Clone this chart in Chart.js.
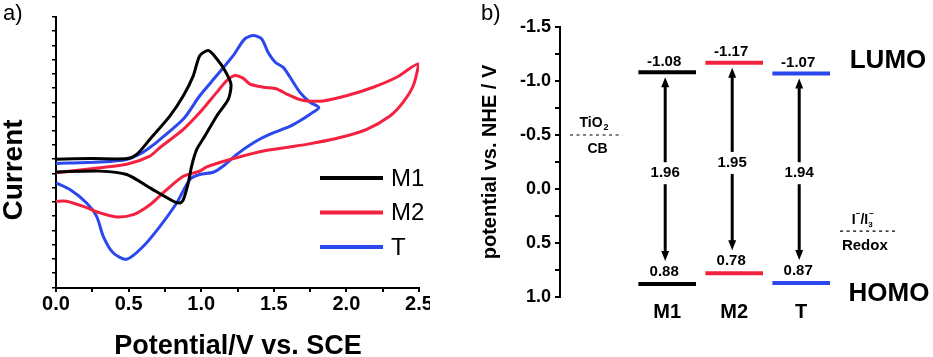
<!DOCTYPE html>
<html>
<head>
<meta charset="utf-8">
<script src="https://cdn.jsdelivr.net/npm/chart.js@4.4.1/dist/chart.umd.min.js"></script>
<style>
  html, body { margin: 0; padding: 0; background: #fff; }
  #wrap { position: relative; width: 933px; height: 357px; overflow: hidden; }
  canvas { position: absolute; top: 0; }
  #cvChart { left: 0; }
  #levelChart { left: 430px; }
</style>
</head>
<body>
<div id="wrap">
  <canvas id="cvChart" width="430" height="357"></canvas>
  <canvas id="levelChart" width="503" height="357"></canvas>
</div>
<script>
// Panel a: cyclic voltammograms (current in arbitrary units)
const m1Potential = [0, 0.25, 0.49, 0.556, 0.647, 0.785, 0.877, 0.946, 0.99, 1.05, 1.107, 1.164, 1.205, 1.187, 1.107, 1.026, 0.97, 0.934, 0.911, 0.877, 0.854, 0.808, 0.647, 0.487, 0.303, 0];
const m1Current   = [4.0, 4.02, 4.02, 4.17, 4.70, 5.52, 6.23, 6.94, 7.64, 7.82, 7.53, 7.11, 6.64, 6.11, 5.52, 4.82, 4.35, 3.76, 3.17, 2.58, 2.46, 2.52, 2.99, 3.46, 3.58, 3.55];

const m2Potential = [0, 0.303, 0.487, 0.647, 0.716, 0.877, 0.99, 1.107, 1.176, 1.233, 1.29, 1.336, 1.428, 1.52, 1.59, 1.67, 1.727, 1.84, 2.0, 2.185, 2.346, 2.495, 2.46, 2.39, 2.30, 2.14, 1.956, 1.727, 1.428, 1.198, 1.038, 0.99, 0.877, 0.762, 0.647, 0.532, 0.418, 0.303, 0.188, 0.073, 0];
const m2Current   = [3.52, 3.70, 3.82, 4.11, 4.41, 5.05, 5.64, 6.35, 6.76, 6.94, 6.84, 6.64, 6.53, 6.47, 6.29, 6.11, 6.05, 6.05, 6.23, 6.53, 6.88, 7.35, 6.58, 6.0, 5.52, 5.05, 4.76, 4.52, 4.29, 3.99, 3.73, 3.58, 3.40, 2.93, 2.40, 2.05, 1.97, 2.11, 2.34, 2.52, 2.52];

const tPotential = [0, 0.303, 0.487, 0.60, 0.67, 0.877, 0.99, 1.107, 1.22, 1.30, 1.36, 1.417, 1.46, 1.51, 1.565, 1.61, 1.68, 1.75, 1.81, 1.75, 1.68, 1.61, 1.474, 1.36, 1.245, 1.152, 1.083, 0.99, 0.923, 0.831, 0.716, 0.60, 0.487, 0.395, 0.326, 0.28, 0.211, 0.096, 0];
const tCurrent   = [3.85, 3.90, 3.99, 4.25, 4.5, 5.41, 6.23, 6.94, 7.64, 8.23, 8.35, 8.23, 7.76, 7.41, 7.23, 6.9, 6.35, 6.0, 5.82, 5.58, 5.35, 5.15, 4.88, 4.58, 4.17, 3.76, 3.54, 3.46, 3.29, 2.46, 1.64, 0.93, 0.48, 0.70, 1.28, 1.99, 2.46, 2.93, 3.17];

// Panel b: energy levels (V vs. NHE)
const dyes = ['M1', 'M2', 'T'];
const lumo = [-1.08, -1.17, -1.07];
const homo = [0.88, 0.78, 0.87];
const gap = [1.96, 1.95, 1.94];
const tio2CB = -0.5;
const redox = 0.39;

const colors = ['#000000', '#f5223f', '#2b47ee'];
const FONT = '"Liberation Sans", Arial, sans-serif';

function toPoints(xs, ys) {
    return xs.map((x, i) => ({ x: x, y: ys[i] }));
}

function halfStep(v) {
    return Math.abs(v * 2 - Math.round(v * 2)) < 1e-6;
}

// fix the axis box sizes so the plot area lands where the original is
function fixWidth(w) {
    return scale => { scale.width = w; scale.paddingTop = 0; scale.paddingBottom = 0; };
}
function fixHeight(h) {
    return scale => { scale.height = h; scale.paddingLeft = 0; scale.paddingRight = 0; };
}

const axisBlack = {
    color: '#000',
    lineWidth: 2,
    drawOnChartArea: false,
    drawTicks: true,
    tickLength: 4
};

// ---------- panel a ----------
const cvDecor = {
    id: 'cvDecor',
    afterDraw(chart) {
        const ctx = chart.ctx;
        ctx.save();
        ctx.fillStyle = '#000';
        ctx.textBaseline = 'top';
        ctx.font = '22px ' + FONT;
        ctx.fillText('a)', 3, 3);

        ctx.textAlign = 'center';
        ctx.textBaseline = 'middle';
        ctx.font = 'bold 27px ' + FONT;
        ctx.fillText('Potential/V vs. SCE', 238, 347);

        ctx.save();
        ctx.translate(14, 170);
        ctx.rotate(-Math.PI / 2);
        ctx.font = 'bold 28px ' + FONT;
        ctx.fillText('Current', 0, 0);
        ctx.restore();

        // legend
        chart.data.datasets.forEach((ds, i) => {
            const y = 178 + i * 34.5;
            ctx.strokeStyle = ds.borderColor;
            ctx.lineWidth = 4;
            ctx.beginPath();
            ctx.moveTo(320, y);
            ctx.lineTo(383, y);
            ctx.stroke();
            ctx.fillStyle = '#000';
            ctx.textAlign = 'left';
            ctx.font = '24px ' + FONT;
            ctx.fillText(ds.label, 391, y + 1);
        });
        ctx.restore();
    }
};

new Chart(document.getElementById('cvChart'), {
    type: 'scatter',
    data: {
        datasets: [
            { label: 'M1', data: toPoints(m1Potential, m1Current) },
            { label: 'M2', data: toPoints(m2Potential, m2Current) },
            { label: 'T', data: toPoints(tPotential, tCurrent) }
        ].map((ds, i) => Object.assign(ds, {
            showLine: true,
            borderColor: colors[i],
            borderWidth: 3,
            pointRadius: 0,
            tension: 0.25
        }))
    },
    options: {
        responsive: false,
        animation: false,
        layout: { padding: { top: 17, right: 11, left: 0, bottom: 0 } },
        plugins: { legend: { display: false }, tooltip: { enabled: false } },
        scales: {
            x: {
                type: 'linear',
                min: 0,
                max: 2.5,
                afterFit: fixHeight(69),
                border: { color: '#000', width: 2 },
                grid: axisBlack,
                ticks: {
                    stepSize: 0.25,
                    padding: 0,
                    maxRotation: 0,
                    autoSkip: false,
                    color: '#000',
                    font: { family: FONT, size: 20, weight: 'bold' },
                    callback: v => halfStep(v) ? v.toFixed(1) : ''
                }
            },
            y: {
                type: 'linear',
                min: -0.53,
                max: 9,
                afterFit: fixWidth(56),
                border: { color: '#000', width: 2 },
                grid: Object.assign({}, axisBlack, { lineWidth: 1.5 }),
                ticks: { stepSize: 0.5, autoSkip: false, callback: () => '' }
            }
        }
    },
    plugins: [cvDecor]
});

// ---------- panel b ----------
const levelHalf = 0.43;
const levelDatasets = [];
dyes.forEach((name, i) => {
    [lumo[i], homo[i]].forEach(v => {
        levelDatasets.push({
            label: name,
            data: [{ x: i - levelHalf, y: v }, { x: i + levelHalf, y: v }],
            showLine: true,
            borderColor: colors[i],
            borderWidth: 4,
            pointRadius: 0
        });
    });
});

function arrowHead(ctx, x, y, dir) {
    ctx.beginPath();
    ctx.moveTo(x, y);
    ctx.lineTo(x - 4, y + dir * 10);
    ctx.lineTo(x + 4, y + dir * 10);
    ctx.closePath();
    ctx.fill();
}

function dashed(ctx, x1, x2, y) {
    ctx.save();
    ctx.setLineDash([3, 3.5]);
    ctx.lineWidth = 1.2;
    ctx.strokeStyle = '#000';
    ctx.beginPath();
    ctx.moveTo(x1, y);
    ctx.lineTo(x2, y);
    ctx.stroke();
    ctx.restore();
}

const levelDecor = {
    id: 'levelDecor',
    afterDatasetsDraw(chart) {
        const ctx = chart.ctx;
        const xs = chart.scales.x;
        const ys = chart.scales.y;
        ctx.save();
        ctx.fillStyle = '#000';
        ctx.strokeStyle = '#000';

        dyes.forEach((name, i) => {
            const px = xs.getPixelForValue(i) - 2;
            const yL = ys.getPixelForValue(lumo[i]);
            const yH = ys.getPixelForValue(homo[i]);
            const top = yL + 5;
            const bot = yH - 23;
            ctx.lineWidth = 3;
            ctx.beginPath();
            ctx.moveTo(px, top + 6);
            ctx.lineTo(px, bot - 6);
            ctx.stroke();
            arrowHead(ctx, px, top, 1);
            arrowHead(ctx, px, bot, -1);

            // gap value on a white patch
            const mid = (top + bot) / 2 + 4;
            ctx.fillStyle = '#fff';
            ctx.fillRect(px - 17, mid - 11, 34, 22);
            ctx.fillStyle = '#000';
            ctx.font = 'bold 15px ' + FONT;
            ctx.textAlign = 'center';
            ctx.textBaseline = 'middle';
            ctx.fillText(gap[i].toFixed(2), px, mid);

            // level values
            const cx = xs.getPixelForValue(i) - 3;
            ctx.fillText(lumo[i].toFixed(2), cx, yL - 11);
            ctx.fillText(homo[i].toFixed(2), cx, yH - 12);
        });

        // TiO2 conduction band
        const yCB = ys.getPixelForValue(tio2CB);
        dashed(ctx, xs.getPixelForValue(-1.45), xs.getPixelForValue(-0.67), yCB);
        ctx.font = 'bold 14px ' + FONT;
        ctx.textAlign = 'left';
        ctx.textBaseline = 'middle';
        const tx = xs.getPixelForValue(-1.07) - 16;
        ctx.fillText('TiO', tx, yCB - 12);
        const tw = ctx.measureText('TiO').width;
        ctx.font = 'bold 9px ' + FONT;
        ctx.fillText('2', tx + tw + 1, yCB - 7);
        ctx.font = 'bold 14px ' + FONT;
        ctx.textAlign = 'center';
        ctx.fillText('CB', xs.getPixelForValue(-1.04), yCB + 14);

        // iodide / triiodide redox
        const yR = ys.getPixelForValue(redox);
        dashed(ctx, xs.getPixelForValue(2.58), xs.getPixelForValue(3.4), yR);
        const rx = xs.getPixelForValue(2.95);
        ctx.textAlign = 'center';
        ctx.font = 'bold 15px ' + FONT;
        ctx.fillText('Redox', rx, yR + 15);
        let ix = rx - 13;
        ctx.textAlign = 'left';
        ctx.font = 'bold 14px ' + FONT;
        ctx.fillText('I', ix, yR - 11);
        ix += ctx.measureText('I').width;
        ctx.font = 'bold 8px ' + FONT;
        ctx.fillText('\u2212', ix, yR - 17);
        ix += ctx.measureText('\u2212').width;
        ctx.font = 'bold 14px ' + FONT;
        ctx.fillText('/I', ix, yR - 11);
        ix += ctx.measureText('/I').width;
        ctx.font = 'bold 8px ' + FONT;
        ctx.fillText('3', ix, yR - 6);
        ctx.fillText('\u2212', ix + 1, yR - 17);

        // LUMO / HOMO captions
        ctx.textAlign = 'center';
        ctx.font = 'bold 26px ' + FONT;
        ctx.fillText('LUMO', 458, 61);
        ctx.fillText('HOMO', 459, 294);

        // panel label and axis title
        ctx.textAlign = 'left';
        ctx.textBaseline = 'top';
        ctx.font = '22px ' + FONT;
        ctx.fillText('b)', 51, 3);

        ctx.save();
        ctx.translate(60, 162);
        ctx.rotate(-Math.PI / 2);
        ctx.textAlign = 'center';
        ctx.textBaseline = 'middle';
        ctx.font = 'bold 20px ' + FONT;
        ctx.fillText('potential vs. NHE / V', 0, 0);
        ctx.restore();

        ctx.restore();
    }
};

new Chart(document.getElementById('levelChart'), {
    type: 'scatter',
    data: { datasets: levelDatasets },
    options: {
        responsive: false,
        animation: false,
        layout: { padding: { top: 27, right: 0, left: 0, bottom: 0 } },
        plugins: { legend: { display: false }, tooltip: { enabled: false } },
        scales: {
            x: {
                type: 'linear',
                min: -1.6,
                max: 3.967,
                afterFit: fixHeight(60),
                afterBuildTicks: s => { s.ticks = dyes.map((d, i) => ({ value: i })); },
                border: { display: false },
                grid: { display: false, drawTicks: false },
                ticks: {
                    padding: 3,
                    autoSkip: false,
                    maxRotation: 0,
                    color: '#000',
                    font: { family: FONT, size: 20, weight: 'bold' },
                    callback: (v, i) => dyes[i]
                }
            },
            y: {
                type: 'linear',
                reverse: true,
                min: -1.5,
                max: 1.0,
                afterFit: fixWidth(130),
                border: { color: '#000', width: 2 },
                grid: Object.assign({}, axisBlack, { tickLength: 5 }),
                ticks: {
                    stepSize: 0.25,
                    padding: 4,
                    autoSkip: false,
                    color: '#000',
                    font: { family: FONT, size: 18, weight: 'bold' },
                    callback: v => halfStep(v) ? v.toFixed(1) : ''
                }
            }
        }
    },
    plugins: [levelDecor]
});
</script>
</body>
</html>
